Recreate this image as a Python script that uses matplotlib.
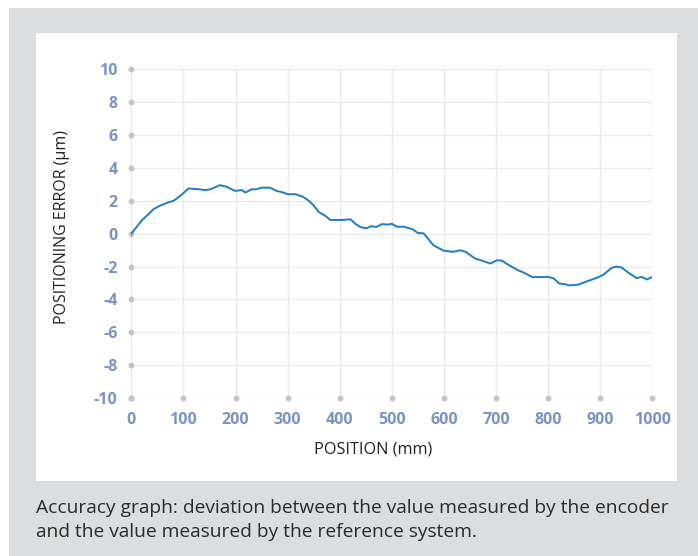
import matplotlib
matplotlib.use("Agg")
import matplotlib.pyplot as plt
from matplotlib.patches import Rectangle

plt.rcParams["axes.unicode_minus"] = False

position_mm = [0, 20, 30, 43, 55, 71, 81, 94, 110, 130, 142, 152, 170, 183, 199, 212, 219, 231,
               240, 250, 266, 279, 292, 300, 315, 329, 340, 350, 360, 373, 382, 401, 421, 430,
               440, 451, 461, 470, 481, 492, 500, 510, 523, 539, 550, 561, 571, 580, 599, 618,
               631, 642, 660, 673, 689, 702, 711, 727, 743, 752, 770, 800, 811, 821, 832, 841,
               858, 874, 893, 906, 922, 931, 941, 953, 970, 979, 990, 999]
error_um = [0.0, 0.8, 1.1, 1.5, 1.7, 1.9, 2.0, 2.3, 2.75, 2.7, 2.65, 2.7, 2.95, 2.85, 2.6, 2.65, 2.5, 2.7,
            2.7, 2.8, 2.8, 2.6, 2.5, 2.4, 2.4, 2.25, 2.02, 1.72, 1.31, 1.07, 0.83, 0.83, 0.87, 0.6,
            0.4, 0.32, 0.46, 0.4, 0.58, 0.55, 0.6, 0.42, 0.42, 0.28, 0.04, 0.02, -0.36, -0.71, -1.03, -1.11,
            -1.01, -1.11, -1.52, -1.64, -1.82, -1.62, -1.64, -1.96, -2.24, -2.35, -2.65, -2.63, -2.73, -3.03, -3.07, -3.15,
            -3.1, -2.91, -2.69, -2.5, -2.08, -2.0, -2.06, -2.35, -2.71, -2.63, -2.79, -2.65]

x_ticks = [0, 100, 200, 300, 400, 500, 600, 700, 800, 900, 1000]
y_ticks = [-10, -8, -6, -4, -2, 0, 2, 4, 6, 8, 10]
x_label = "POSITION (mm)"
y_label = "POSITIONING ERROR (µm)"
caption_lines = ["Accuracy graph: deviation between the value measured by the encoder",
                 "and the value measured by the reference system."]

W, H = 698, 556
fig = plt.figure(figsize=(W / 100, H / 100), dpi=100)
fig.patch.set_facecolor("white")

# gray frame and white panel
fig.patches.append(Rectangle((9 / W, 0), 1 - 9 / W, 1 - 8 / H, transform=fig.transFigure,
                             facecolor="#dcdddf", edgecolor="none", zorder=0))
fig.patches.append(Rectangle((36 / W, 1 - 481 / H), (677 - 36) / W, (481 - 33) / H,
                             transform=fig.transFigure, facecolor="white", edgecolor="none", zorder=1))

ax = fig.add_axes([131.3 / W, 1 - 398 / H, (652.3 - 131.3) / W, (398 - 69.3) / H])
ax.set_zorder(5)
ax.set_facecolor("none")
ax.set_xlim(0, 1000)
ax.set_ylim(-10, 10)
ax.set_xticks(x_ticks)
ax.set_yticks(y_ticks)
ax.grid(True, color="#e9e9e9", linewidth=0.9)
ax.set_axisbelow(True)
for s in ax.spines.values():
    s.set_visible(False)
ax.tick_params(length=0, pad=10)

tick_color = "#7b93c8"
for lab in ax.get_xticklabels() + ax.get_yticklabels():
    lab.set_fontweight("bold")
    lab.set_color(tick_color)
    lab.set_fontsize(11.5)
    lab.set_family("Open Sans")

# axis dots
ax.scatter([0] * len(y_ticks), y_ticks, s=18, color="#c4c4c4", clip_on=False, zorder=3, linewidths=0)
ax.scatter(x_ticks, [-10] * len(x_ticks), s=18, color="#c4c4c4", clip_on=False, zorder=3, linewidths=0)

ax.plot(position_mm, error_um, color="#1f7cc6", linewidth=1.4, zorder=4)

fig.text(373.5 / W, 1 - 450 / H, x_label, fontsize=11.7, color="#222222", family="Open Sans",
         ha="center", va="center")
fig.text(62 / W, 1 - 227.5 / H, y_label, fontsize=11.5, color="#222222", family="Open Sans",
         ha="center", va="center", rotation=90)

for i, line in enumerate(caption_lines):
    fig.text(36 / W, 1 - (513 + 24 * i) / H, line, fontsize=13.8, color="#2a2a2a",
             family="Open Sans", va="baseline", ha="left")

fig.savefig("out.png", dpi=100)
